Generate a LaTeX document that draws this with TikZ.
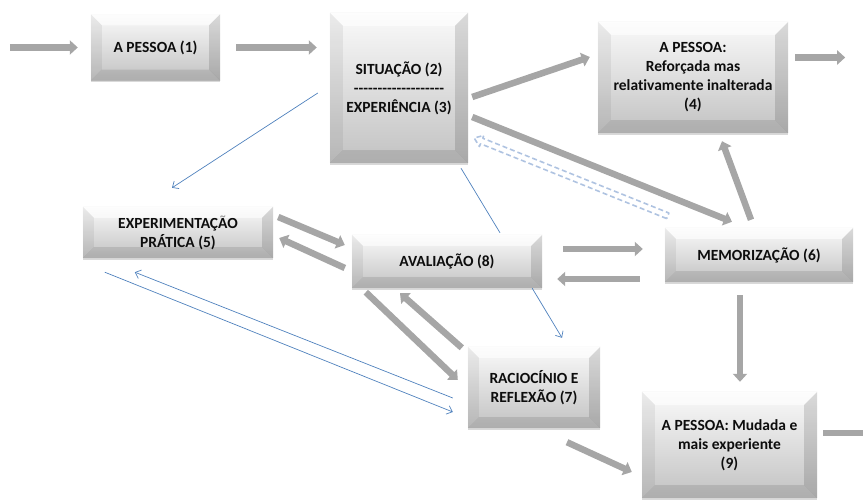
\documentclass[tikz,border=0pt]{standalone}
\usepackage{fontspec}
\setmainfont{Carlito}[Ligatures=NoCommon]
\usetikzlibrary{arrows.meta,calc,shadows}
\definecolor{arrgray}{RGB}{166,166,166}
\definecolor{lnblue}{RGB}{79,129,189}
\definecolor{dshblue}{RGB}{175,195,225}
\tikzset{
  box/.style={rectangle, inner sep=2pt, align=center,
    top color=black!2, bottom color=black!24, draw=none,
    font=\fontsize{15.5}{19}\selectfont\bfseries, text=black!95,
    drop shadow={shadow xshift=0pt, shadow yshift=-2pt, opacity=0.25, fill=black!60}},
  fat/.style={draw=arrgray, line width=6.5pt, -{Triangle[length=8pt,width=14pt]}},
  fatline/.style={draw=arrgray, line width=6.5pt},
  thinarr/.style={draw=lnblue, line width=0.7pt, -{Straight Barb[length=5pt,width=9pt]}},
  thinline/.style={draw=lnblue, line width=0.7pt},
}
\newcommand\bevel[2][11]{%
  \fill[white,opacity=0.6] (#2.north west) -- (#2.north east) -- ($(#2.north east)+(-#1,#1)$) -- ($(#2.north west)+(#1,#1)$) -- cycle;
  \fill[black,opacity=0.06] (#2.north west) -- ($(#2.north west)+(#1,#1)$) -- ($(#2.south west)+(#1,-#1)$) -- (#2.south west) -- cycle;
  \fill[black,opacity=0.13] (#2.north east) -- ($(#2.north east)+(-#1,#1)$) -- ($(#2.south east)+(-#1,-#1)$) -- (#2.south east) -- cycle;
  \fill[black,opacity=0.10] (#2.south west) -- ($(#2.south west)+(#1,-#1)$) -- ($(#2.south east)+(-#1,-#1)$) -- (#2.south east) -- cycle;
}
\newcommand\hy{-\kern0pt}
\begin{document}
\begin{tikzpicture}[x=1pt,y=-1pt]
\useasboundingbox (0,0) rectangle (863,502);
% boxes
\node[box, minimum width=129pt, minimum height=66pt] (b1) at (155.5,47.5) {A PESSOA (1)};
\node[box, minimum width=138pt, minimum height=150pt] (b2) at (399,88) {SITUAÇÃO (2)\\\hy\hy\hy\hy\hy\hy\hy\hy\hy\hy\hy\hy\hy\hy\hy\hy\hy\hy\hy\\EXPERIÊNCIA (3)};
\node[box, minimum width=190pt, minimum height=111pt] (b4) at (693,77.5) {A PESSOA:\\Reforçada mas\\relativamente inalterada\\(4)};
\node[box, minimum width=190pt, minimum height=51pt] (b5) at (178,232.5) {EXPERIMENTAÇÃO\\PRÁTICA (5)};
\node[box, minimum width=190pt, minimum height=53pt] (b8) at (447,261.5) {AVALIAÇÃO (8)};
\node[box, minimum width=188pt, minimum height=54pt] (b6) at (759,255) {MEMORIZAÇÃO (6)};
\node[box, minimum width=132pt, minimum height=81pt] (b7) at (534,387.5) {RACIOCÍNIO E\\REFLEXÃO (7)};
\node[box, minimum width=175pt, minimum height=106pt] (b9) at (729.5,445) {A PESSOA: Mudada e\\mais experiente\\(9)};
\bevel{b1}\bevel[13]{b2}\bevel[13]{b4}\bevel{b5}\bevel{b8}\bevel{b6}\bevel{b7}\bevel[13]{b9}
% thick grey arrows
\coordinate (in) at ($(b1.west)+(-81,0)$);
\draw[fat] (in) -- ($(b1.west)+(-13,0)$);
\draw[fat] ($(b1.east)+(16,0)$) -- ($(b1.east -| b2.west)+(-13,0)$);
\draw[fat] ($(b4.east)+(7,-20)$) -- ($(b4.east)+(57,-20)$);
\draw[fat] ($(b2.east)+(4,9)$) -- ($(b4.west)+(-8,-20.5)$);
\draw[fat] ($(b2.east)+(4,29)$) -- ($(b6.north)+(-27,-6)$);
\draw[fat] ($(b6.north)+(-8,-8)$) -- ($(b4.south)+(29,8)$);
\draw[fat] ($(b5.east)+(5,-15.5)$) -- ($(b8.west)+(-7,-16.5)$);
\draw[fat] ($(b8.west)+(-7,6.5)$) -- ($(b5.east)+(6,5.5)$);
\draw[fat] ($(b8.east)+(21,-12.5)$) -- ($(b6.west)+(-22,-6)$);
\draw[fat] ($(b6.west)+(-25,24)$) -- ($(b8.east)+(15,17.5)$);
\draw[fat] ($(b8.south west)+(14,4)$) -- ($(b7.west)+(-10,-7.5)$);
\draw[fat] ($(b7.north west)+(-6,1)$) -- ($(b8.south)+(-47,5)$);
\draw[fat] ($(b6.south)+(-19,13)$) -- ($(b9.north)+(10.5,-10)$);
\draw[fat] ($(b7.south)+(33,14)$) -- ($(b9.west)+(-10,27)$);
\coordinate (out) at (863,433);
\draw[fatline] ($(b9.east)+(6,-12)$) -- (out);
% thin blue connectors
\draw[thinarr] ($(b2.west)+(-12,5)$) -- ($(b5.north)+(-6,-19)$);
\draw[thinline] ($(b2.south)+(62,5)$) -- ($(b8.north)+(53,-2)$);
\draw[thinarr] ($(b8.south east)+(-10,0)$) -- ($(b7.north)+(28,-9)$);
\draw[thinarr] ($(b5.south west)+(22,14)$) -- ($(b7.west)+(-15,24.5)$);
\draw[thinarr] ($(b7.west)+(-15,10.5)$) -- ($(b5.south west)+(52,14)$);
% dashed outline arrow
\coordinate (dT) at ($(b6.north west)+(3,-12)$);
\coordinate (dH) at ($(b2.east)+(6,50)$);
\coordinate (dB) at ($(dH)!8pt!(dT)$);
\draw[dshblue, line width=1.6pt, dash pattern=on 5pt off 3pt, line join=round]
  ($(dT)!3pt!90:(dH)$) -- ($(dB)!3pt!90:(dH)$) -- ($(dB)!6pt!90:(dH)$) -- (dH)
  -- ($(dB)!6pt!-90:(dH)$) -- ($(dB)!3pt!-90:(dH)$) -- ($(dT)!3pt!-90:(dH)$) -- cycle;
\end{tikzpicture}
\end{document}
